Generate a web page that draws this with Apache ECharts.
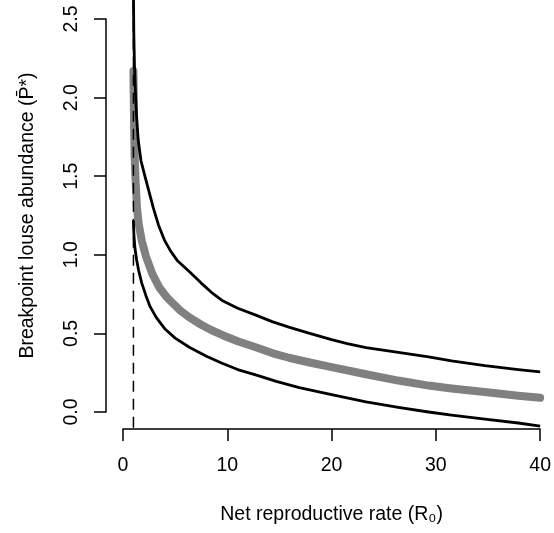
<!DOCTYPE html>
<html>
<head>
<meta charset="utf-8">
<script src="https://cdn.jsdelivr.net/npm/echarts@6/dist/echarts.min.js"></script>
<style>
  html, body { margin: 0; padding: 0; background: #fff; }
  #chart { width: 554px; height: 533px; }
</style>
</head>
<body>
<div id="chart"></div>
<script>
// values
const xTicks = [0, 10, 20, 30, 40];
const yTicks = [0, 0.5, 1, 1.5, 2, 2.5];

// thick grey curve (model breakpoint)
const greyR0 = [1.0, 1.03, 1.07, 1.12, 1.2, 1.34, 1.5, 1.8, 2.2, 2.8, 3.5, 4.2, 4.8, 5.5, 6.4, 7.5, 8.5, 9.5, 11, 12.8, 14.3, 15.9, 17.9, 20, 23.3, 26.4, 29.3, 31.5, 34.7, 37.9, 40];
const greyP  = [2.17, 2.0, 1.8, 1.62, 1.48, 1.30, 1.20, 1.09, 0.99, 0.88, 0.79, 0.73, 0.69, 0.645, 0.60, 0.555, 0.52, 0.49, 0.45, 0.41, 0.375, 0.345, 0.315, 0.285, 0.24, 0.20, 0.168, 0.15, 0.127, 0.104, 0.09];

// upper noisy black curve
const upperR0 = [1.0, 1.04, 1.1, 1.2, 1.3, 1.46, 1.72, 2.1, 2.5, 2.9, 3.4, 4.0, 4.6, 5.25, 6.4, 7.5, 8.5, 9.5, 11, 12.8, 14.3, 15.9, 17.9, 20, 21.5, 23.3, 26.4, 29.3, 31.5, 34.7, 37.9, 40];
const upperP  = [2.66, 2.4, 2.2, 2.02, 1.88, 1.73, 1.60, 1.50, 1.40, 1.30, 1.19, 1.09, 1.02, 0.96, 0.89, 0.82, 0.76, 0.71, 0.66, 0.615, 0.575, 0.54, 0.50, 0.46, 0.435, 0.41, 0.38, 0.35, 0.325, 0.295, 0.27, 0.255];

// lower noisy black curve
const lowerR0 = [1.0, 1.05, 1.15, 1.3, 1.5, 1.8, 2.2, 2.6, 3.2, 4.0, 5.0, 6.4, 8.0, 9.5, 11, 12.8, 14.7, 16.9, 20, 23.3, 26.4, 29.3, 31.5, 34.7, 37.9, 40];
const lowerP  = [1.22, 1.12, 1.04, 0.97, 0.90, 0.82, 0.74, 0.67, 0.60, 0.53, 0.47, 0.41, 0.355, 0.31, 0.27, 0.235, 0.195, 0.155, 0.11, 0.065, 0.03, 0.0, -0.02, -0.045, -0.07, -0.09];

// dashed reference line at R0 = 1
const refR0 = [1, 1];
const refP = [-0.1, 2.7];

const zip = (xs, ys) => xs.map((x, i) => [x, ys[i]]);
const font = 'Liberation Sans, Arial, Helvetica, sans-serif';

const chart = echarts.init(document.getElementById('chart'));
chart.setOption({
  animation: false,
  backgroundColor: '#ffffff',
  grid: { left: 123, right: 12, top: 19, bottom: 121 },
  xAxis: {
    type: 'value',
    min: xTicks[0],
    max: xTicks[xTicks.length - 1],
    interval: 10,
    offset: 17,
    name: 'Net reproductive rate (R\u2080)',
    nameLocation: 'middle',
    nameGap: 76,
    nameTextStyle: { color: '#000', fontSize: 19.5, fontFamily: font },
    axisLine: { onZero: false, lineStyle: { color: '#000', width: 1.5 } },
    axisTick: { length: 12, lineStyle: { color: '#000', width: 1.5 } },
    axisLabel: { color: '#000', fontSize: 19.5, fontFamily: font, margin: 27 },
    splitLine: { show: false }
  },
  yAxis: {
    type: 'value',
    min: yTicks[0],
    max: yTicks[yTicks.length - 1],
    interval: 0.5,
    offset: 17,
    name: 'Breakpoint louse abundance (P\u0304*)',
    nameLocation: 'middle',
    nameGap: 68,
    nameTextStyle: { color: '#000', fontSize: 19.5, fontFamily: font },
    axisLine: { show: true, onZero: false, lineStyle: { color: '#000', width: 1.5 } },
    axisTick: { show: true, length: 12, lineStyle: { color: '#000', width: 1.5 } },
    axisLabel: {
      color: '#000', fontSize: 19.5, fontFamily: font, margin: 24, rotate: 90,
      formatter: v => v.toFixed(1)
    },
    splitLine: { show: false }
  },
  series: [
    {
      type: 'line',
      data: zip(greyR0, greyP),
      symbol: 'none',
      clip: false,
      lineStyle: { color: '#808080', width: 8, cap: 'round', join: 'round' }
    },
    {
      type: 'line',
      data: zip(upperR0, upperP),
      symbol: 'none',
      clip: false,
      lineStyle: { color: '#000', width: 2.8, join: 'round' }
    },
    {
      type: 'line',
      data: zip(lowerR0, lowerP),
      symbol: 'none',
      clip: false,
      lineStyle: { color: '#000', width: 2.8, join: 'round' }
    },
    {
      type: 'line',
      data: zip(refR0, refP),
      symbol: 'none',
      clip: false,
      lineStyle: { color: '#000', width: 1.5, type: [11, 7] }
    }
  ]
});
</script>
</body>
</html>
